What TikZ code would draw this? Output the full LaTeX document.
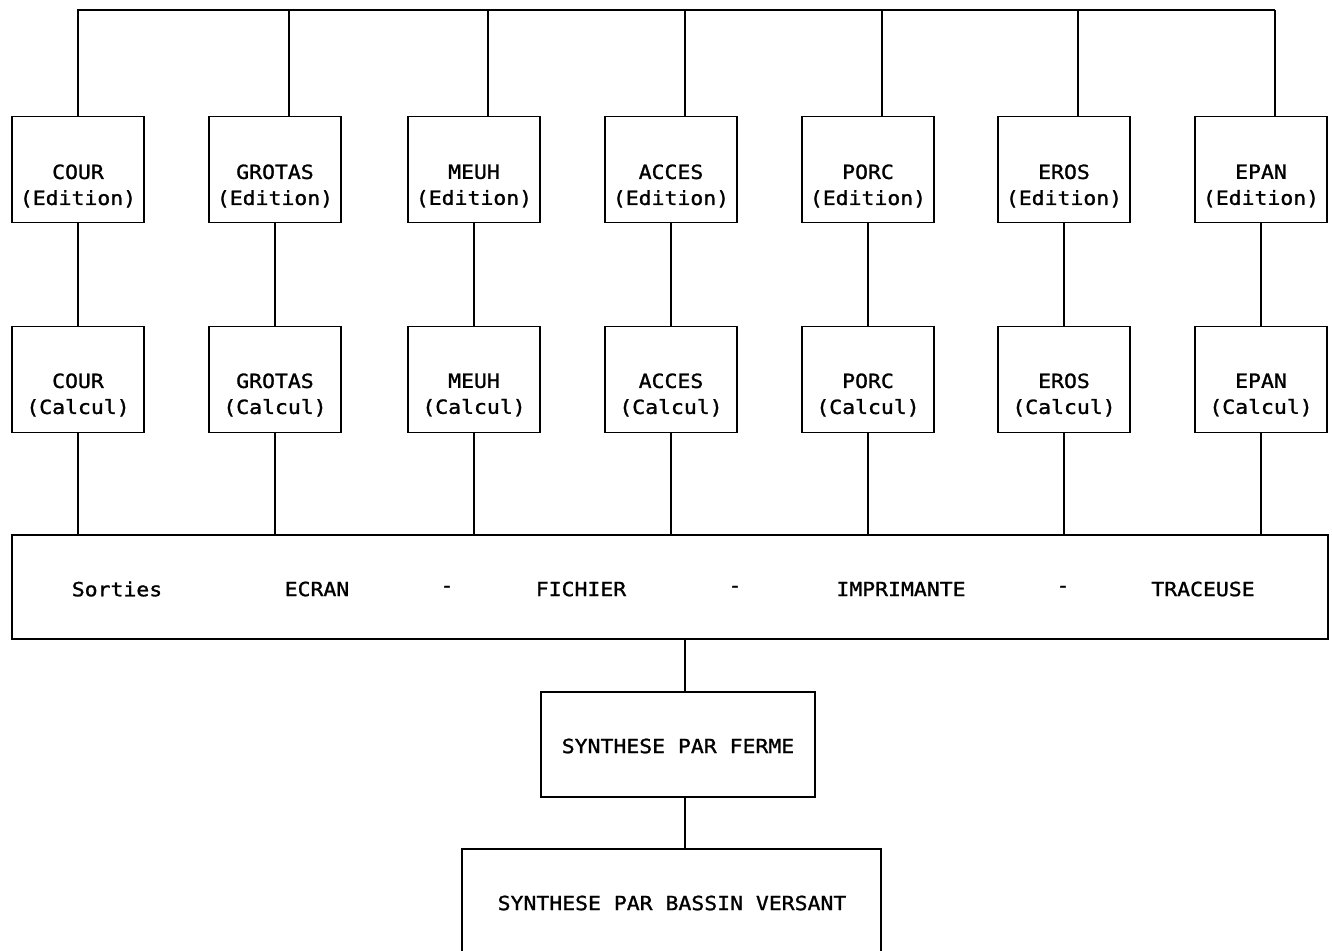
\documentclass[tikz,border=0pt]{standalone}
\usepackage{fontspec}
\newfontfamily\lpfont[FakeStretch=1.1,FakeBold=1.2]{DejaVu Sans Mono}
\begin{document}
\begin{tikzpicture}[x=1pt,y=-1pt,
  box/.style={draw,line width=1.8pt,inner sep=0pt,minimum width=132pt,minimum height=106pt},
  txt/.style={inner sep=0pt,align=center,font=\lpfont\fontsize{19.5}{26}\selectfont},
  wire/.style={line width=1.8pt}]
\useasboundingbox (0,0) rectangle (1332,950);
\clip (0,0) rectangle (1332,950);
\fill[white] (0,0) rectangle (1332,950);
% edition and calcul boxes
\foreach \i/\x/\n in {1/78/COUR,2/275/GROTAS,3/474/MEUH,4/671/ACCES,5/868/PORC,6/1064/EROS,7/1261/EPAN}{
  \node[box] (e\i) at (\x,169.5) {};
  \node[txt] (et\i) at (\x,186) {\n\\(Edition)};
  \node[box] (c\i) at (\x,379.5) {};
  \node[txt] (ct\i) at (\x,395) {\n\\(Calcul)};
}
% sorties box
\node[box,minimum width=1316pt,minimum height=104pt] (s) at (670,587) {};
\foreach \x/\t [count=\k] in {117/Sorties,317/ECRAN,447/-,581/FICHIER,735/-,901/IMPRIMANTE,1063/-,1203/TRACEUSE}
  \node[txt] (st\k) at (\x,589) {\t};
% synthese boxes
\node[box,minimum width=274pt,minimum height=105pt] (f) at (678,744.5) {};
\node[txt] (ft) at (678,746) {SYNTHESE PAR FERME};
\node[box,minimum width=419pt,minimum height=112pt] (b) at (671.5,905) {};
\node[txt] (bt) at (672,903) {SYNTHESE PAR BASSIN VERSANT};
% top bus
\coordinate (busR) at (1275,10);
\draw[wire] (e1.north) |- (busR);
\foreach \i in {2,...,7}
  \draw[wire] ([xshift=14pt]e\i.north) -- ([xshift=14pt]e\i.north |- busR);
% edition -> calcul -> sorties
\foreach \i in {1,...,7}{
  \draw[wire] (e\i.south) -- (c\i.north);
  \draw[wire] (c\i.south) -- (c\i.south |- s.north);
}
% sorties -> ferme -> bassin
\draw[wire] ([xshift=7pt]f.north |- s.south) -- ([xshift=7pt]f.north);
\draw[wire] ([xshift=7pt]f.south) -- ([xshift=7pt]f.south |- b.north);
\end{tikzpicture}
\end{document}
